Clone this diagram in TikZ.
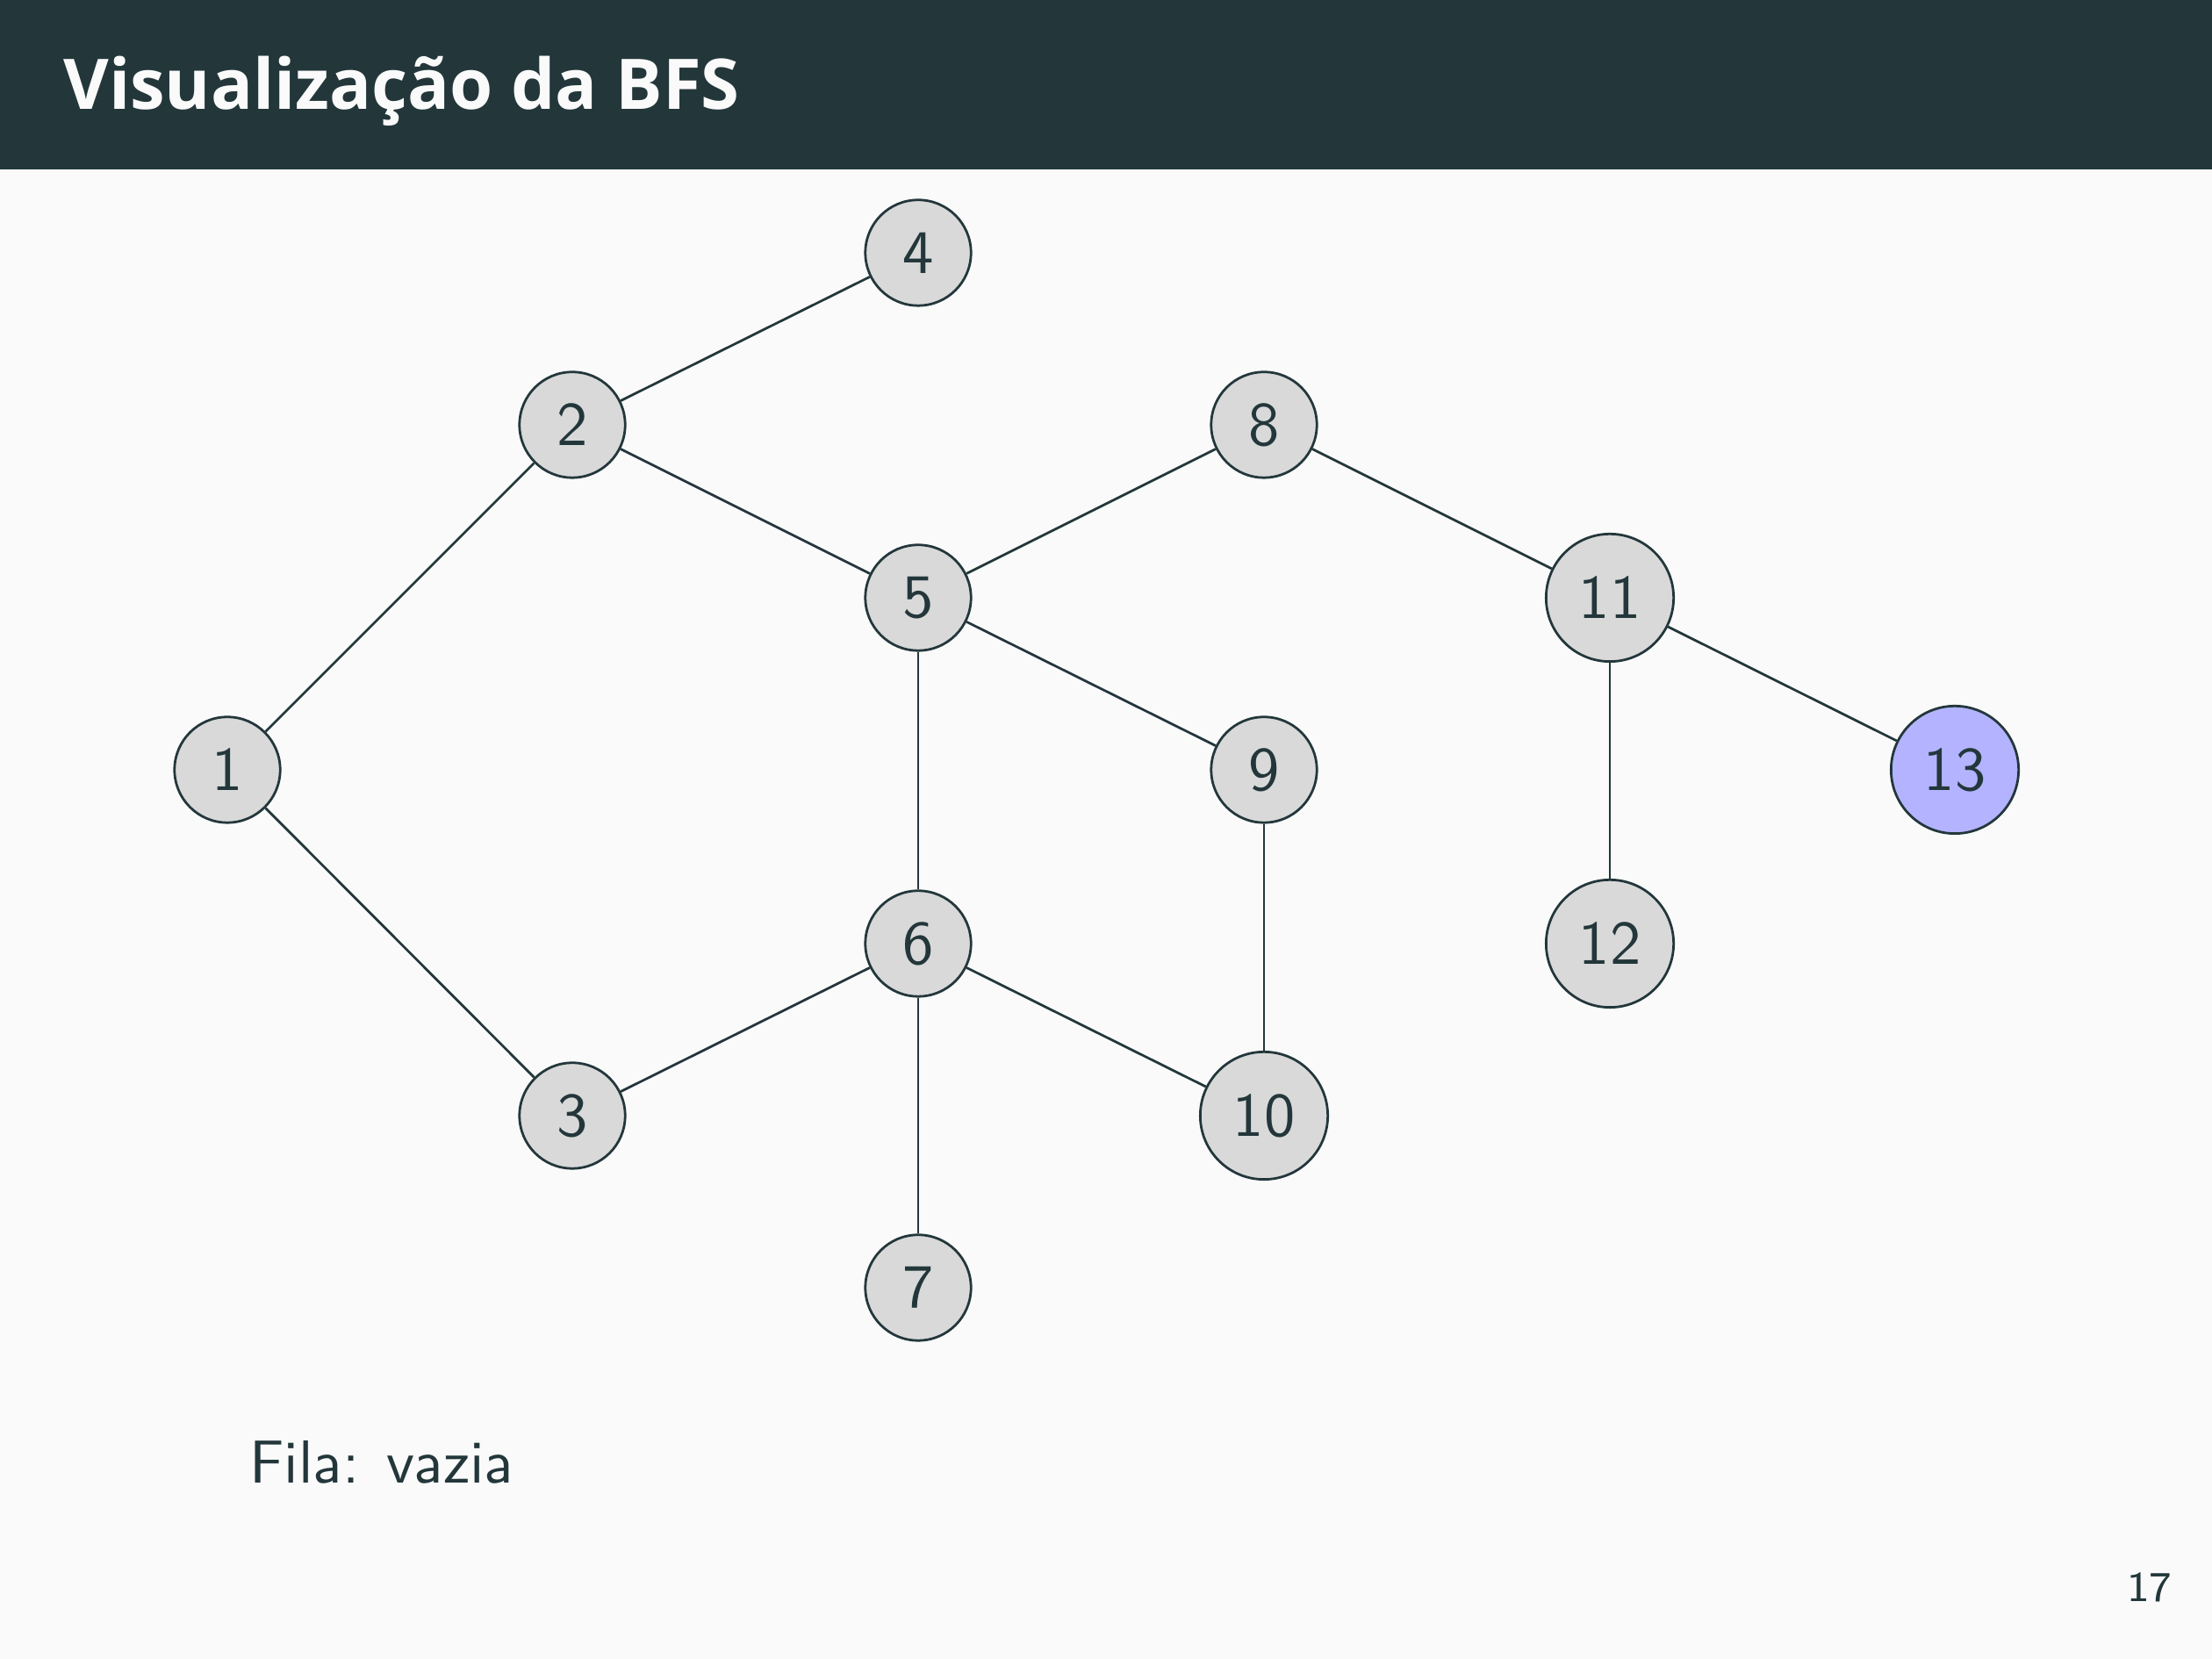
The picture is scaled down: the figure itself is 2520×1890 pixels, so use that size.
\documentclass[tikz,border=0pt]{standalone}
\usepackage{fontspec}
\newfontfamily\titlefont{Open Sans}
\definecolor{mDarkTeal}{HTML}{23373B}
\definecolor{bgcol}{HTML}{FAFAFA}
\definecolor{nodefill}{HTML}{D9D9D9}
\definecolor{hlfill}{HTML}{B3B3FF}
\begin{document}
\begin{tikzpicture}[x=0.14452pt,y=-0.14452pt,
  vtx/.style={circle,draw=mDarkTeal,line width=0.4pt,fill=nodefill,inner sep=0pt,
    minimum size=17.4pt,font=\sffamily\fontsize{10.2}{12}\selectfont,text=mDarkTeal},
  vtxw/.style={vtx,minimum size=21pt},
  hl/.style={fill=hlfill},
  edge/.style={draw=mDarkTeal,line width=0.4pt}]
\fill[bgcol] (0,0) rectangle (2520,1890);
\useasboundingbox (0,0) rectangle (2520,1890);
\fill[mDarkTeal] (0,0) rectangle (2520,193);
\node[anchor=base west,inner sep=0pt,text=bgcol,font=\titlefont\bfseries\fontsize{11.5}{14}\selectfont] (title) at (71,125) {Visualização da BFS};

\node[vtx] (n4) at (1046,288) {4};
\node[vtx] (n2) at (652,484) {2};
\node[vtx] (n8) at (1440,484) {8};
\node[vtx] (n5) at (1046,681) {5};
\node[vtxw] (n11) at (1834,681) {11};
\node[vtx] (n1) at (259,877) {1};
\node[vtx] (n9) at (1440,877) {9};
\node[vtxw,hl] (n13) at (2227,877) {13};
\node[vtx] (n6) at (1046,1075) {6};
\node[vtxw] (n12) at (1834,1075) {12};
\node[vtx] (n3) at (652,1271) {3};
\node[vtxw] (n10) at (1440,1271) {10};
\node[vtx] (n7) at (1046,1467) {7};

\foreach \a/\b in {n1/n2,n1/n3,n2/n4,n2/n5,n5/n8,n5/n9,n5/n6,n8/n11,n11/n13,n11/n12,n9/n10,n6/n3,n6/n10,n6/n7}
  \draw[edge] (\a) -- (\b);

\node[anchor=base west,inner sep=0pt,text=mDarkTeal,font=\sffamily\fontsize{10}{12}\selectfont] (fila) at (283,1690) {Fila: vazia};
\node[anchor=base east,inner sep=0pt,text=mDarkTeal,font=\sffamily\fontsize{7}{8}\selectfont] (page) at (2476,1825) {17};
\end{tikzpicture}
\end{document}
